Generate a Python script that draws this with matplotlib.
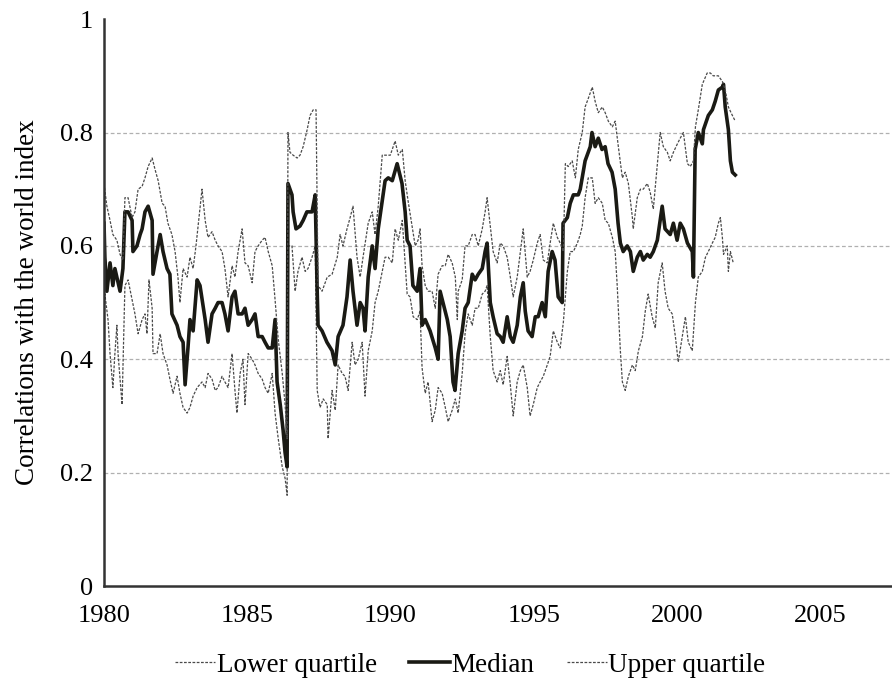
import matplotlib
matplotlib.use('Agg')
import matplotlib.pyplot as plt

plt.rcParams['font.family'] = ['Liberation Serif', 'DejaVu Serif']

# rolling correlations with the world index, decimal years
median_years = [
    1980.00, 1980.03, 1980.10, 1980.21, 1980.31, 1980.38, 1980.56, 1980.66, 1980.73, 1980.84,
    1980.98, 1981.01, 1981.15, 1981.26, 1981.33, 1981.43, 1981.54, 1981.68, 1981.71, 1981.85,
    1981.96, 1982.06, 1982.20, 1982.30, 1982.37, 1982.55, 1982.65, 1982.76, 1982.83, 1982.93,
    1983.00, 1983.11, 1983.25, 1983.35, 1983.53, 1983.63, 1983.77, 1983.88, 1983.98, 1984.12,
    1984.22, 1984.33, 1984.47, 1984.57, 1984.68, 1984.82, 1984.92, 1985.03, 1985.17, 1985.27,
    1985.38, 1985.52, 1985.62, 1985.73, 1985.87, 1985.97, 1986.04, 1986.15, 1986.25, 1986.32,
    1986.39, 1986.42, 1986.56, 1986.60, 1986.70, 1986.84, 1986.95, 1987.08, 1987.26, 1987.37,
    1987.44, 1987.47, 1987.61, 1987.78, 1987.96, 1988.07, 1988.17, 1988.34, 1988.48, 1988.59,
    1988.69, 1988.83, 1988.94, 1989.04, 1989.11, 1989.22, 1989.36, 1989.46, 1989.57, 1989.71,
    1989.81, 1989.92, 1990.06, 1990.23, 1990.40, 1990.51, 1990.58, 1990.68, 1990.78, 1990.93,
    1991.03, 1991.10, 1991.21, 1991.38, 1991.56, 1991.66, 1991.73, 1991.83, 1991.98, 1992.08,
    1992.18, 1992.25, 1992.36, 1992.50, 1992.60, 1992.71, 1992.85, 1992.95, 1993.06, 1993.20,
    1993.30, 1993.37, 1993.48, 1993.58, 1993.72, 1993.83, 1993.93, 1994.07, 1994.18, 1994.28,
    1994.42, 1994.53, 1994.63, 1994.70, 1994.80, 1994.94, 1995.05, 1995.15, 1995.29, 1995.40,
    1995.50, 1995.64, 1995.74, 1995.85, 1995.99, 1996.02, 1996.17, 1996.27, 1996.38, 1996.55,
    1996.62, 1996.79, 1996.97, 1997.03, 1997.14, 1997.25, 1997.38, 1997.49, 1997.59, 1997.73,
    1997.84, 1997.94, 1998.02, 1998.12, 1998.26, 1998.37, 1998.47, 1998.61, 1998.72, 1998.82,
    1998.96, 1999.06, 1999.17, 1999.31, 1999.48, 1999.58, 1999.76, 1999.87, 2000.00, 2000.11,
    2000.22, 2000.36, 2000.53, 2000.57, 2000.63, 2000.74, 2000.88, 2000.92, 2001.09, 2001.23,
    2001.33, 2001.44, 2001.58, 2001.62, 2001.68, 2001.79, 2001.86, 2001.93, 2002.03,
]
median = [
    0.64, 0.58, 0.52, 0.57, 0.53, 0.56, 0.52, 0.56, 0.66, 0.66,
    0.645, 0.59, 0.60, 0.62, 0.63, 0.66, 0.67, 0.645, 0.55, 0.59,
    0.62, 0.59, 0.56, 0.55, 0.48, 0.46, 0.44, 0.43, 0.355, 0.42,
    0.47, 0.45, 0.54, 0.53, 0.47, 0.43, 0.48, 0.49, 0.50, 0.50,
    0.48, 0.45, 0.51, 0.52, 0.48, 0.48, 0.49, 0.46, 0.47, 0.48,
    0.44, 0.44, 0.43, 0.42, 0.42, 0.47, 0.36, 0.32, 0.275, 0.235,
    0.21, 0.71, 0.69, 0.66, 0.63, 0.635, 0.645, 0.66, 0.66, 0.69,
    0.52, 0.46, 0.45, 0.43, 0.415, 0.39, 0.44, 0.46, 0.51, 0.575,
    0.52, 0.46, 0.50, 0.49, 0.45, 0.545, 0.60, 0.56, 0.63, 0.68,
    0.715, 0.72, 0.715, 0.745, 0.71, 0.66, 0.61, 0.60, 0.53, 0.52,
    0.56, 0.46, 0.47, 0.45, 0.42, 0.40, 0.52, 0.50, 0.47, 0.44,
    0.36, 0.345, 0.41, 0.45, 0.49, 0.50, 0.55, 0.54, 0.55, 0.56,
    0.59, 0.605, 0.50, 0.475, 0.445, 0.44, 0.43, 0.475, 0.44, 0.43,
    0.46, 0.51, 0.535, 0.485, 0.45, 0.44, 0.475, 0.475, 0.50, 0.475,
    0.555, 0.59, 0.575, 0.51, 0.50, 0.64, 0.65, 0.675, 0.69, 0.69,
    0.70, 0.75, 0.775, 0.80, 0.775, 0.79, 0.77, 0.775, 0.745, 0.73,
    0.70, 0.64, 0.605, 0.59, 0.60, 0.59, 0.555, 0.58, 0.59, 0.575,
    0.585, 0.58, 0.59, 0.61, 0.67, 0.63, 0.62, 0.64, 0.61, 0.64,
    0.63, 0.605, 0.59, 0.545, 0.77, 0.80, 0.78, 0.805, 0.83, 0.84,
    0.855, 0.875, 0.88, 0.885, 0.845, 0.805, 0.75, 0.73, 0.725,
]

upper_years = [
    1980.00, 1980.10, 1980.21, 1980.31, 1980.45, 1980.56, 1980.66, 1980.73, 1980.84, 1980.98,
    1981.08, 1981.19, 1981.33, 1981.43, 1981.54, 1981.68, 1981.78, 1981.89, 1982.03, 1982.13,
    1982.23, 1982.37, 1982.48, 1982.58, 1982.65, 1982.76, 1982.90, 1983.00, 1983.11, 1983.21,
    1983.42, 1983.53, 1983.63, 1983.77, 1983.88, 1983.98, 1984.12, 1984.22, 1984.33, 1984.47,
    1984.57, 1984.68, 1984.82, 1984.92, 1985.03, 1985.17, 1985.27, 1985.38, 1985.52, 1985.62,
    1985.73, 1985.87, 1985.97, 1986.08, 1986.22, 1986.32, 1986.39, 1986.42, 1986.49, 1986.60,
    1986.74, 1986.84, 1986.95, 1987.09, 1987.19, 1987.30, 1987.40, 1987.47, 1987.61, 1987.79,
    1987.96, 1988.14, 1988.24, 1988.34, 1988.48, 1988.59, 1988.69, 1988.83, 1988.94, 1989.04,
    1989.22, 1989.36, 1989.46, 1989.57, 1989.71, 1989.81, 1989.99, 1990.16, 1990.27, 1990.41,
    1990.51, 1990.61, 1990.75, 1990.86, 1990.96, 1991.03, 1991.10, 1991.21, 1991.31, 1991.45,
    1991.56, 1991.66, 1991.80, 1991.91, 1992.01, 1992.15, 1992.26, 1992.33, 1992.36, 1992.50,
    1992.60, 1992.71, 1992.85, 1992.95, 1993.06, 1993.20, 1993.30, 1993.37, 1993.48, 1993.58,
    1993.72, 1993.83, 1993.93, 1994.07, 1994.18, 1994.28, 1994.42, 1994.53, 1994.63, 1994.77,
    1994.87, 1994.98, 1995.12, 1995.22, 1995.33, 1995.47, 1995.57, 1995.68, 1995.82, 1995.92,
    1996.03, 1996.10, 1996.20, 1996.34, 1996.45, 1996.55, 1996.69, 1996.79, 1996.90, 1997.04,
    1997.14, 1997.25, 1997.39, 1997.49, 1997.60, 1997.74, 1997.84, 1997.95, 1998.09, 1998.19,
    1998.30, 1998.44, 1998.47, 1998.61, 1998.72, 1998.82, 1998.96, 1999.06, 1999.17, 1999.31,
    1999.41, 1999.52, 1999.66, 1999.76, 1999.87, 2000.01, 2000.11, 2000.22, 2000.36, 2000.46,
    2000.57, 2000.64, 2000.74, 2000.88, 2001.05, 2001.16, 2001.26, 2001.44, 2001.58, 2001.68,
    2001.79, 2001.93, 2002.03,
]
upper = [
    0.71, 0.67, 0.645, 0.62, 0.61, 0.585, 0.575, 0.685, 0.685, 0.65,
    0.66, 0.70, 0.705, 0.72, 0.74, 0.755, 0.735, 0.715, 0.675, 0.67,
    0.64, 0.62, 0.59, 0.545, 0.50, 0.56, 0.545, 0.58, 0.56, 0.60,
    0.70, 0.645, 0.615, 0.625, 0.61, 0.60, 0.59, 0.56, 0.51, 0.565,
    0.545, 0.59, 0.63, 0.57, 0.565, 0.535, 0.59, 0.60, 0.61, 0.615,
    0.59, 0.565, 0.505, 0.435, 0.375, 0.32, 0.26, 0.80, 0.765, 0.76,
    0.755, 0.76, 0.775, 0.805, 0.83, 0.84, 0.84, 0.53, 0.52, 0.545,
    0.55, 0.58, 0.62, 0.60, 0.63, 0.65, 0.67, 0.58, 0.545, 0.58,
    0.64, 0.66, 0.62, 0.67, 0.76, 0.76, 0.76, 0.785, 0.76, 0.77,
    0.715, 0.68, 0.635, 0.60, 0.61, 0.63, 0.565, 0.53, 0.52, 0.52,
    0.49, 0.55, 0.565, 0.565, 0.585, 0.57, 0.545, 0.47, 0.52, 0.54,
    0.60, 0.60, 0.62, 0.62, 0.60, 0.63, 0.66, 0.685, 0.635, 0.59,
    0.57, 0.605, 0.60, 0.58, 0.545, 0.51, 0.545, 0.59, 0.63, 0.545,
    0.555, 0.575, 0.605, 0.62, 0.575, 0.57, 0.605, 0.64, 0.615, 0.605,
    0.59, 0.745, 0.74, 0.75, 0.72, 0.77, 0.80, 0.845, 0.86, 0.88,
    0.855, 0.835, 0.845, 0.835, 0.82, 0.81, 0.82, 0.775, 0.72, 0.73,
    0.71, 0.65, 0.63, 0.685, 0.70, 0.70, 0.71, 0.695, 0.665, 0.745,
    0.80, 0.775, 0.765, 0.75, 0.765, 0.78, 0.79, 0.80, 0.745, 0.74,
    0.75, 0.81, 0.84, 0.885, 0.905, 0.905, 0.90, 0.90, 0.89, 0.875,
    0.845, 0.83, 0.82,
]

lower_years = [
    1980.00, 1980.03, 1980.14, 1980.21, 1980.31, 1980.38, 1980.45, 1980.49, 1980.63, 1980.73,
    1980.84, 1980.98, 1981.08, 1981.19, 1981.33, 1981.43, 1981.50, 1981.57, 1981.68, 1981.71,
    1981.85, 1981.96, 1982.06, 1982.20, 1982.30, 1982.41, 1982.55, 1982.65, 1982.76, 1982.90,
    1983.00, 1983.11, 1983.25, 1983.42, 1983.53, 1983.63, 1983.77, 1983.88, 1983.98, 1984.12,
    1984.22, 1984.33, 1984.47, 1984.57, 1984.64, 1984.75, 1984.85, 1984.92, 1985.03, 1985.17,
    1985.27, 1985.38, 1985.52, 1985.62, 1985.73, 1985.87, 1985.97, 1986.08, 1986.22, 1986.32,
    1986.39, 1986.42, 1986.56, 1986.67, 1986.77, 1986.91, 1987.02, 1987.12, 1987.26, 1987.37,
    1987.44, 1987.54, 1987.65, 1987.79, 1987.82, 1987.96, 1988.07, 1988.17, 1988.31, 1988.41,
    1988.52, 1988.66, 1988.76, 1988.87, 1989.01, 1989.11, 1989.22, 1989.36, 1989.46, 1989.57,
    1989.71, 1989.81, 1989.92, 1990.06, 1990.16, 1990.27, 1990.41, 1990.58, 1990.68, 1990.79,
    1990.93, 1991.03, 1991.10, 1991.21, 1991.31, 1991.45, 1991.56, 1991.66, 1991.80, 1991.91,
    1992.01, 1992.15, 1992.26, 1992.36, 1992.50, 1992.60, 1992.71, 1992.85, 1992.95, 1993.06,
    1993.20, 1993.30, 1993.37, 1993.48, 1993.58, 1993.72, 1993.83, 1993.93, 1994.07, 1994.18,
    1994.28, 1994.42, 1994.53, 1994.63, 1994.77, 1994.87, 1994.98, 1995.12, 1995.22, 1995.33,
    1995.47, 1995.57, 1995.68, 1995.82, 1995.92, 1996.03, 1996.17, 1996.27, 1996.38, 1996.52,
    1996.62, 1996.69, 1996.79, 1996.90, 1997.04, 1997.14, 1997.25, 1997.39, 1997.49, 1997.60,
    1997.74, 1997.84, 1997.91, 1998.02, 1998.09, 1998.19, 1998.30, 1998.44, 1998.54, 1998.65,
    1998.79, 1998.89, 1998.99, 1999.13, 1999.24, 1999.34, 1999.48, 1999.58, 1999.69, 1999.83,
    1999.94, 2000.04, 2000.18, 2000.29, 2000.39, 2000.53, 2000.64, 2000.74, 2000.88, 2000.99,
    2001.09, 2001.23, 2001.33, 2001.44, 2001.51, 2001.58, 2001.62, 2001.75, 2001.79, 2001.86,
    2001.96,
]
lower = [
    0.49, 0.515, 0.47, 0.41, 0.35, 0.41, 0.46, 0.41, 0.32, 0.53,
    0.54, 0.505, 0.48, 0.445, 0.47, 0.48, 0.445, 0.54, 0.49, 0.41,
    0.41, 0.445, 0.41, 0.39, 0.365, 0.34, 0.37, 0.34, 0.315, 0.305,
    0.315, 0.335, 0.35, 0.36, 0.35, 0.375, 0.365, 0.345, 0.35, 0.37,
    0.36, 0.35, 0.41, 0.345, 0.305, 0.375, 0.40, 0.32, 0.41, 0.40,
    0.39, 0.375, 0.365, 0.35, 0.34, 0.375, 0.305, 0.26, 0.21, 0.19,
    0.16, 0.60, 0.60, 0.52, 0.555, 0.58, 0.555, 0.56, 0.58, 0.60,
    0.345, 0.315, 0.33, 0.32, 0.26, 0.345, 0.31, 0.39, 0.375, 0.37,
    0.345, 0.43, 0.39, 0.40, 0.43, 0.335, 0.415, 0.45, 0.50, 0.52,
    0.555, 0.58, 0.58, 0.57, 0.63, 0.61, 0.645, 0.515, 0.51, 0.475,
    0.47, 0.485, 0.385, 0.34, 0.36, 0.29, 0.31, 0.35, 0.34, 0.315,
    0.29, 0.31, 0.33, 0.305, 0.375, 0.445, 0.48, 0.46, 0.49, 0.49,
    0.515, 0.52, 0.53, 0.44, 0.38, 0.36, 0.38, 0.355, 0.405, 0.355,
    0.30, 0.36, 0.38, 0.39, 0.35, 0.30, 0.32, 0.35, 0.36, 0.37,
    0.39, 0.405, 0.45, 0.43, 0.42, 0.465, 0.555, 0.59, 0.59, 0.605,
    0.62, 0.635, 0.685, 0.72, 0.72, 0.675, 0.685, 0.675, 0.645, 0.64,
    0.615, 0.59, 0.53, 0.415, 0.36, 0.345, 0.37, 0.39, 0.38, 0.415,
    0.44, 0.485, 0.515, 0.475, 0.455, 0.535, 0.57, 0.52, 0.49, 0.48,
    0.44, 0.395, 0.44, 0.475, 0.43, 0.415, 0.50, 0.545, 0.555, 0.58,
    0.59, 0.605, 0.615, 0.64, 0.65, 0.615, 0.585, 0.60, 0.555, 0.59,
    0.57,
]

y_ticks = [0, 0.2, 0.4, 0.6, 0.8, 1]
y_ticklabels = ['0', '0.2', '0.4', '0.6', '0.8', '1']
x_ticks = [1980, 1985, 1990, 1995, 2000, 2005]

fig = plt.figure(figsize=(8.92, 6.83), dpi=100)
ax = fig.add_axes([0.1166, 0.142, 0.8834, 0.830])

quartile_style = dict(color='#4a4a4a', linewidth=0.9, linestyle=(0, (2.2, 1.2)))
ax.plot(lower_years, lower, label='Lower quartile', **quartile_style)
ax.plot(median_years, median, label='Median', color='#1a1a14', linewidth=2.6)
ax.plot(upper_years, upper, label='Upper quartile', **quartile_style)

ax.set_xlim(1980, 2007.5)
ax.set_ylim(0, 1)
ax.set_xticks(x_ticks)
ax.set_yticks(y_ticks)
ax.set_yticklabels(y_ticklabels)
ax.tick_params(length=0, labelsize=19, pad=8)
ax.tick_params(axis='x', pad=14)

for y in y_ticks[1:-1]:
    ax.axhline(y, color='#b0b0b0', linewidth=0.9, linestyle=(0, (3, 2)), zorder=0)

for side in ('top', 'right'):
    ax.spines[side].set_visible(False)
for side in ('left', 'bottom'):
    ax.spines[side].set_color('#333333')
    ax.spines[side].set_linewidth(1.8)

ax.set_ylabel('Correlations with the world index', fontsize=19.5, labelpad=14)

fig.legend(loc='lower center', bbox_to_anchor=(0.527, -0.028), ncol=3, frameon=False,
           fontsize=19.5, handlelength=1.5, handletextpad=0.05, columnspacing=1.2)

plt.savefig('out.png', dpi=100)
